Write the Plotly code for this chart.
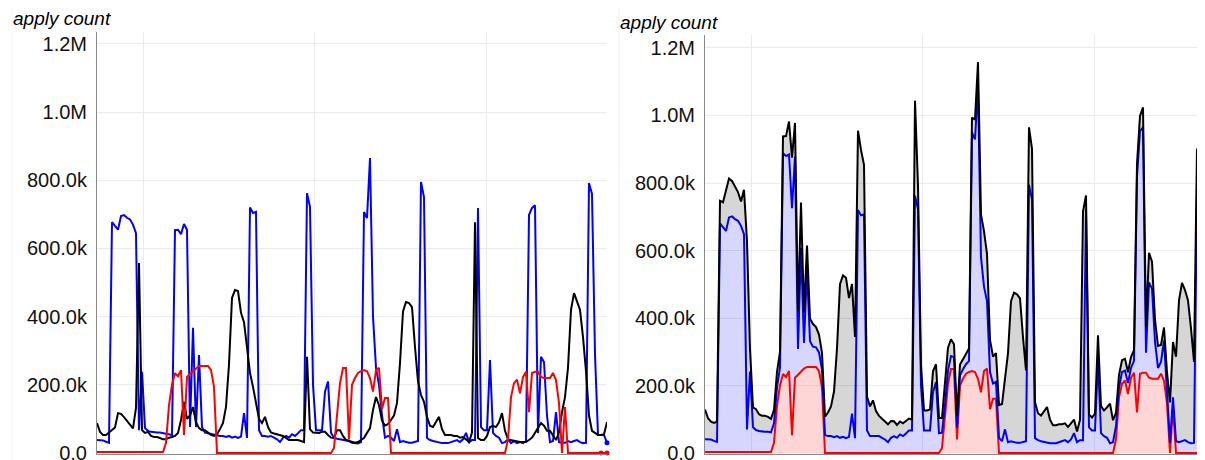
import plotly.graph_objects as go

# ---- data (values in thousands) ----
blue_k = [38, 38, 37, 33, 30, 677, 665, 655, 695, 698, 690, 685, 670, 645, 67, 238, 73, 65, 62, 60,
          60, 60, 58, 58, 55, 53, 654, 655, 642, 672, 655, 76, 367, 76, 287, 76, 60, 58, 55, 53,
          53, 50, 50, 47, 50, 45, 48, 44, 48, 117, 44, 720, 704, 707, 67, 50, 50, 48, 50, 45,
          40, 32, 45, 50, 45, 55, 50, 58, 67, 67, 762, 722, 200, 67, 67, 67, 180, 210, 59, 45,
          42, 40, 38, 35, 35, 30, 28, 28, 32, 707, 689, 865, 400, 250, 200, 110, 45, 50, 45, 35,
          70, 32, 35, 32, 30, 30, 32, 35, 795, 751, 44, 38, 35, 33, 30, 29, 29, 29, 32, 35,
          38, 32, 40, 59, 32, 38, 38, 719, 76, 67, 67, 273, 59, 50, 45, 29, 32, 40, 29, 35,
          29, 32, 29, 35, 698, 719, 727, 59, 282, 267, 110, 32, 35, 120, 32, 30, 30, 35, 32, 35,
          38, 32, 29, 30, 792, 760, 290, 53, 53, 53, 30]
black_k = [88, 62, 53, 53, 60, 67, 75, 117, 115, 105, 95, 85, 72, 132, 557, 67, 59, 62, 50, 47,
           47, 44, 40, 40, 45, 47, 50, 59, 97, 150, 100, 110, 135, 90, 73, 67, 67, 60, 53, 50,
           55, 70, 88, 135, 260, 455, 478, 475, 411, 384, 300, 235, 194, 147, 100, 88, 106, 76, 60, 57,
           55, 53, 50, 44, 38, 38, 38, 38, 35, 32, 282, 70, 60, 59, 59, 62, 62, 53, 45, 44,
           67, 67, 50, 38, 35, 32, 30, 32, 38, 44, 59, 73, 126, 164, 140, 95, 80, 85, 97, 110,
           147, 264, 415, 443, 440, 428, 311, 210, 170, 150, 106, 80, 76, 90, 106, 70, 53, 53, 53, 50,
           50, 45, 47, 40, 32, 60, 677, 44, 38, 38, 50, 76, 80, 76, 90, 117, 65, 40, 38, 35,
           35, 32, 32, 32, 38, 45, 59, 75, 88, 80, 65, 65, 50, 38, 60, 120, 164, 250, 420, 469,
           445, 420, 340, 240, 110, 65, 59, 53, 53, 55, 91]
red_k = [3, 3, 3, 3, 3, 3, 3, 3, 3, 3, 3, 3, 3, 3, 3, 3, 3, 3, 3, 3,
         3, 3, 3, 30, 140, 200, 234, 225, 243, 53, 223, 232, 240, 250, 255, 255, 255, 255, 243, 194,
         0, 0, 0, 0, 0, 0, 0, 0, 0, 0, 0, 0, 0, 0, 0, 0, 0, 0, 0, 0,
         0, 0, 0, 0, 0, 0, 0, 0, 0, 0, 0, 0, 0, 0, 0, 0, 0, 0, 0, 15,
         100, 205, 249, 249, 40, 200, 220, 235, 240, 243, 240, 220, 180, 243, 250, 130, 161, 161, 0, 0,
         0, 0, 0, 0, 0, 0, 0, 0, 0, 0, 0, 0, 0, 0, 0, 0, 0, 0, 0, 0,
         0, 0, 0, 0, 0, 0, 0, 0, 0, 0, 0, 0, 0, 0, 0, 0, 0, 40, 164, 205,
         215, 175, 223, 238, 120, 235, 238, 238, 223, 220, 220, 220, 235, 214, 147, 0, 135, 0, 0, 0,
         0, 0, 0, 0, 0, 0, 0, 0, 0, 0, 0]

blue = [v * 1000 for v in blue_k]
black = [v * 1000 for v in black_k]
red = [v * 1000 for v in red_k]
x = list(range(len(blue)))

ytick_vals = [0, 200000, 400000, 600000, 800000, 1000000, 1200000]
ytick_text = ["0.0", "200.0k", "400.0k", "600.0k", "800.0k", "1.0M", "1.2M"]
xgrid_vals = [15.4, 72.6, 129.8]
title_text = "apply count"

# isolated end points drawn as dots
blue_dot_idx = [len(blue) - 1]
red_dot_idx = [len(red) - 3, len(red) - 1]

# the page body has an 8px margin; the figure runs a little past the
# bottom of the window so the bottom tick label is cut by the window, not hidden
OFF = 8
W = 1205 - OFF
H = 460 - OFF + 20
FONT = "Liberation Sans, Arial, sans-serif"
GRID = "#ebebeb"
AXIS = "#8a8a8a"

def fx(p):  # page x pixel -> paper fraction
    return (p - OFF) / W

def fy(p):  # page y pixel -> paper fraction
    return 1 - (p - OFF) / H

fig = go.Figure()

# ---- left: plain lines ----
fig.add_trace(go.Scatter(x=x, y=blue, mode="lines", line=dict(color="blue", width=2),
                         xaxis="x", yaxis="y", showlegend=False, hoverinfo="skip"))
fig.add_trace(go.Scatter(x=x, y=black, mode="lines", line=dict(color="black", width=2),
                         xaxis="x", yaxis="y", showlegend=False, hoverinfo="skip"))
fig.add_trace(go.Scatter(x=x, y=red, mode="lines", line=dict(color="red", width=2),
                         xaxis="x", yaxis="y", showlegend=False, hoverinfo="skip"))
fig.add_trace(go.Scatter(x=[x[i] for i in blue_dot_idx], y=[blue[i] for i in blue_dot_idx],
                         mode="markers", marker=dict(color="blue", size=5), cliponaxis=False,
                         xaxis="x", yaxis="y", showlegend=False, hoverinfo="skip"))
fig.add_trace(go.Scatter(x=[x[i] for i in red_dot_idx], y=[red[i] for i in red_dot_idx],
                         mode="markers", marker=dict(color="red", size=5), cliponaxis=False,
                         xaxis="x", yaxis="y", showlegend=False, hoverinfo="skip"))

# ---- right: stacked areas ----
fig.add_trace(go.Scatter(x=x, y=red, mode="lines", stackgroup="s", line=dict(color="red", width=2),
                         fillcolor="rgba(255,0,0,0.16)", xaxis="x2", yaxis="y2",
                         showlegend=False, hoverinfo="skip"))
fig.add_trace(go.Scatter(x=x, y=blue, mode="lines", stackgroup="s", line=dict(color="blue", width=2),
                         fillcolor="rgba(0,0,255,0.16)", xaxis="x2", yaxis="y2",
                         showlegend=False, hoverinfo="skip"))
fig.add_trace(go.Scatter(x=x, y=black, mode="lines", stackgroup="s", line=dict(color="black", width=2),
                         fillcolor="rgba(0,0,0,0.16)", xaxis="x2", yaxis="y2",
                         showlegend=False, hoverinfo="skip"))

def xaxis_cfg(domain, rng):
    return dict(domain=domain, range=rng, tickvals=xgrid_vals, showticklabels=False,
                showgrid=True, gridcolor=GRID, gridwidth=1, zeroline=False, automargin=False,
                showline=True, linecolor=AXIS, linewidth=1, ticks="", fixedrange=True)

def yaxis_cfg(domain, rng, anchor):
    return dict(domain=domain, range=rng, tickvals=ytick_vals, ticktext=ytick_text,
                showgrid=True, gridcolor=GRID, gridwidth=1, zeroline=False, automargin=False,
                showline=True, linecolor=AXIS, linewidth=1, ticks="",
                ticklabelstandoff=5, anchor=anchor,
                tickfont=dict(family=FONT, size=20, color="#111"), fixedrange=True)

fig.update_layout(
    width=W, height=H,
    margin=dict(l=0, r=0, t=0, b=0, autoexpand=False),
    paper_bgcolor="white", plot_bgcolor="white",
    xaxis=xaxis_cfg([fx(97), fx(607)], [0, 170]),
    yaxis=yaxis_cfg([fy(454), fy(32)], [-2933, 1235000], "x"),
    xaxis2=xaxis_cfg([fx(705), 1.0], [0, 500 / 3]),
    yaxis2=yaxis_cfg([fy(454), fy(35)], [-2963, 1238500], "x2"),
    shapes=[
        dict(type="line", xref="paper", yref="paper", x0=fx(12), x1=fx(12), y0=0, y1=1,
             line=dict(color="#f2f2f2", width=1), layer="below"),
        dict(type="line", xref="paper", yref="paper", x0=fx(619), x1=fx(619), y0=0, y1=1,
             line=dict(color="#f2f2f2", width=1), layer="below"),
    ],
    annotations=[
        dict(text=title_text, xref="paper", yref="paper", x=fx(11), y=fy(18.5),
             xanchor="left", yanchor="middle", showarrow=False,
             font=dict(family=FONT, size=19, color="black", style="italic")),
        dict(text=title_text, xref="paper", yref="paper", x=fx(618), y=fy(22),
             xanchor="left", yanchor="middle", showarrow=False,
             font=dict(family=FONT, size=19, color="black", style="italic")),
    ],
)

fig.write_html("out.html")
